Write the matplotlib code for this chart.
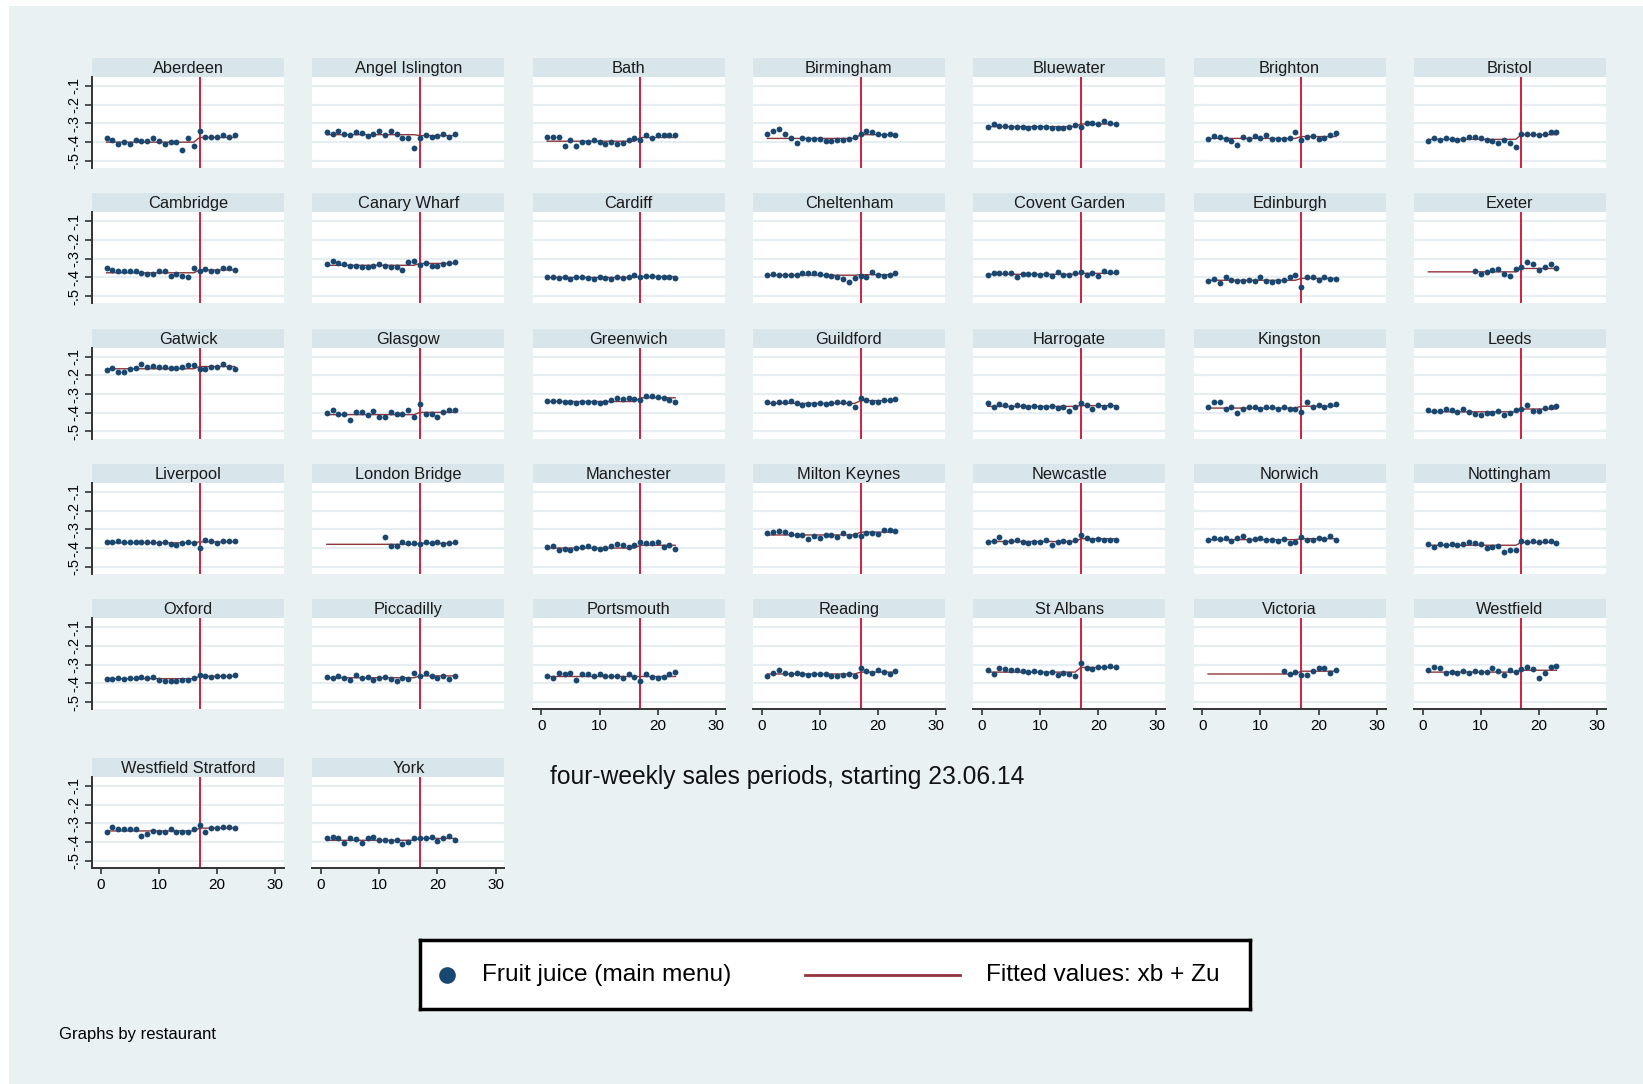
import numpy as np
import matplotlib
matplotlib.use('Agg')
import matplotlib.pyplot as plt
from matplotlib.patches import Rectangle

plt.rcParams['font.family'] = ['Liberation Sans', 'DejaVu Sans']

# four-weekly sales periods
periods = list(range(1, 24))
n = None

# fruit juice (main menu) per restaurant, one value per period
aberdeen = [-0.38, -0.386, -0.41, -0.40, -0.41, -0.386, -0.395, -0.395, -0.38, -0.395, -0.41, -0.40, -0.40, -0.44, -0.38, -0.42, -0.34, -0.37, -0.37, -0.37, -0.36, -0.37, -0.36]
angel_islington = [-0.345, -0.354, -0.338, -0.354, -0.363, -0.345, -0.35, -0.368, -0.354, -0.338, -0.36, -0.338, -0.354, -0.38, -0.38, -0.43, -0.38, -0.36, -0.373, -0.368, -0.354, -0.375, -0.354]
bath = [-0.373, -0.373, -0.373, -0.418, -0.39, -0.42, -0.40, -0.40, -0.39, -0.40, -0.41, -0.40, -0.41, -0.405, -0.39, -0.38, -0.387, -0.364, -0.378, -0.364, -0.364, -0.364, -0.364]
birmingham = [-0.355, -0.342, -0.33, -0.355, -0.378, -0.405, -0.378, -0.382, -0.382, -0.385, -0.395, -0.395, -0.39, -0.39, -0.382, -0.373, -0.355, -0.342, -0.346, -0.355, -0.36, -0.355, -0.36]
bluewater = [-0.318, -0.305, -0.313, -0.313, -0.318, -0.318, -0.318, -0.324, -0.318, -0.318, -0.318, -0.324, -0.324, -0.324, -0.318, -0.31, -0.318, -0.30, -0.30, -0.305, -0.285, -0.30, -0.305]
brighton = [-0.382, -0.367, -0.373, -0.385, -0.396, -0.413, -0.373, -0.382, -0.367, -0.378, -0.364, -0.382, -0.382, -0.382, -0.378, -0.345, -0.39, -0.373, -0.367, -0.382, -0.378, -0.364, -0.35]
bristol = [-0.396, -0.378, -0.39, -0.378, -0.385, -0.39, -0.385, -0.373, -0.373, -0.378, -0.39, -0.396, -0.404, -0.39, -0.404, -0.427, -0.355, -0.355, -0.355, -0.36, -0.355, -0.345, -0.345]
cambridge = [-0.35, -0.36, -0.366, -0.366, -0.366, -0.366, -0.375, -0.384, -0.384, -0.366, -0.366, -0.39, -0.38, -0.39, -0.395, -0.35, -0.366, -0.355, -0.366, -0.366, -0.35, -0.35, -0.36]
canary_wharf = [-0.33, -0.31, -0.323, -0.33, -0.338, -0.338, -0.345, -0.345, -0.338, -0.33, -0.338, -0.345, -0.345, -0.36, -0.318, -0.31, -0.335, -0.323, -0.338, -0.338, -0.33, -0.325, -0.318]
cardiff = [-0.40, -0.40, -0.405, -0.40, -0.41, -0.40, -0.40, -0.405, -0.41, -0.40, -0.405, -0.41, -0.40, -0.405, -0.395, -0.385, -0.40, -0.39, -0.39, -0.395, -0.40, -0.395, -0.405]
cheltenham = [-0.385, -0.38, -0.385, -0.385, -0.385, -0.385, -0.375, -0.375, -0.375, -0.38, -0.385, -0.39, -0.40, -0.41, -0.425, -0.405, -0.39, -0.395, -0.37, -0.385, -0.39, -0.385, -0.375]
covent_garden = [-0.385, -0.375, -0.375, -0.375, -0.375, -0.40, -0.38, -0.38, -0.38, -0.385, -0.38, -0.39, -0.37, -0.385, -0.385, -0.375, -0.37, -0.385, -0.375, -0.39, -0.365, -0.37, -0.37]
edinburgh = [-0.42, -0.41, -0.43, -0.40, -0.415, -0.42, -0.42, -0.415, -0.42, -0.40, -0.42, -0.425, -0.42, -0.415, -0.40, -0.385, -0.45, -0.395, -0.40, -0.415, -0.395, -0.41, -0.41]
exeter = [n, n, n, n, n, n, n, n, -0.366, -0.384, -0.37, -0.36, -0.357, -0.384, -0.39, -0.357, -0.345, -0.32, -0.33, -0.36, -0.345, -0.33, -0.35]
gatwick = [-0.174, -0.162, -0.183, -0.183, -0.168, -0.162, -0.14, -0.153, -0.148, -0.156, -0.156, -0.162, -0.16, -0.153, -0.145, -0.145, -0.165, -0.168, -0.156, -0.153, -0.14, -0.156, -0.165]
glasgow = [-0.40, -0.384, -0.405, -0.405, -0.437, -0.398, -0.398, -0.41, -0.393, -0.423, -0.423, -0.398, -0.405, -0.405, -0.384, -0.425, -0.352, -0.405, -0.405, -0.423, -0.398, -0.384, -0.384]
greenwich = [-0.335, -0.335, -0.335, -0.34, -0.345, -0.35, -0.34, -0.345, -0.34, -0.35, -0.345, -0.33, -0.32, -0.325, -0.32, -0.325, -0.33, -0.31, -0.31, -0.315, -0.32, -0.33, -0.345]
guildford = [-0.345, -0.35, -0.345, -0.345, -0.335, -0.35, -0.36, -0.355, -0.355, -0.35, -0.355, -0.35, -0.345, -0.345, -0.35, -0.37, -0.32, -0.33, -0.34, -0.34, -0.33, -0.33, -0.325]
harrogate = [-0.35, -0.37, -0.355, -0.36, -0.37, -0.36, -0.365, -0.37, -0.365, -0.37, -0.37, -0.365, -0.375, -0.37, -0.39, -0.37, -0.35, -0.36, -0.38, -0.36, -0.37, -0.36, -0.37]
kingston = [-0.37, -0.34, -0.34, -0.38, -0.37, -0.40, -0.38, -0.37, -0.37, -0.38, -0.37, -0.37, -0.38, -0.37, -0.38, -0.38, -0.395, -0.34, -0.37, -0.36, -0.37, -0.36, -0.355]
leeds = [-0.385, -0.39, -0.39, -0.38, -0.385, -0.395, -0.38, -0.395, -0.405, -0.41, -0.40, -0.40, -0.39, -0.41, -0.40, -0.385, -0.38, -0.36, -0.39, -0.39, -0.375, -0.37, -0.365]
liverpool = [-0.365, -0.365, -0.36, -0.37, -0.365, -0.37, -0.37, -0.37, -0.365, -0.375, -0.37, -0.38, -0.385, -0.375, -0.37, -0.375, -0.40, -0.355, -0.36, -0.375, -0.36, -0.36, -0.36]
london_bridge = [n, n, n, n, n, n, n, n, n, n, -0.34, -0.39, -0.39, -0.37, -0.372, -0.375, -0.38, -0.37, -0.375, -0.37, -0.378, -0.375, -0.37]
manchester = [-0.395, -0.39, -0.41, -0.405, -0.41, -0.40, -0.395, -0.39, -0.40, -0.405, -0.40, -0.39, -0.38, -0.385, -0.395, -0.385, -0.37, -0.375, -0.375, -0.37, -0.395, -0.385, -0.405]
milton_keynes = [-0.32, -0.315, -0.31, -0.315, -0.325, -0.33, -0.33, -0.35, -0.335, -0.345, -0.33, -0.33, -0.34, -0.32, -0.335, -0.33, -0.335, -0.32, -0.32, -0.325, -0.305, -0.305, -0.31]
newcastle = [-0.37, -0.36, -0.34, -0.365, -0.36, -0.355, -0.37, -0.375, -0.365, -0.37, -0.355, -0.385, -0.365, -0.36, -0.365, -0.355, -0.33, -0.345, -0.355, -0.35, -0.355, -0.355, -0.355]
norwich = [-0.355, -0.345, -0.35, -0.345, -0.36, -0.345, -0.335, -0.355, -0.35, -0.345, -0.355, -0.355, -0.36, -0.35, -0.375, -0.37, -0.34, -0.355, -0.355, -0.345, -0.35, -0.335, -0.355]
nottingham = [-0.38, -0.395, -0.38, -0.385, -0.38, -0.385, -0.38, -0.37, -0.375, -0.38, -0.40, -0.395, -0.39, -0.42, -0.41, -0.41, -0.36, -0.37, -0.36, -0.37, -0.36, -0.36, -0.375]
oxford = [-0.375, -0.375, -0.37, -0.375, -0.37, -0.37, -0.365, -0.37, -0.365, -0.38, -0.385, -0.385, -0.385, -0.38, -0.38, -0.37, -0.355, -0.36, -0.365, -0.36, -0.36, -0.36, -0.355]
piccadilly = [-0.365, -0.37, -0.36, -0.37, -0.38, -0.355, -0.37, -0.365, -0.38, -0.37, -0.365, -0.375, -0.385, -0.37, -0.375, -0.345, -0.36, -0.345, -0.36, -0.37, -0.36, -0.375, -0.36]
portsmouth = [-0.36, -0.37, -0.345, -0.35, -0.345, -0.38, -0.35, -0.35, -0.36, -0.35, -0.36, -0.36, -0.36, -0.37, -0.35, -0.365, -0.39, -0.35, -0.365, -0.37, -0.365, -0.35, -0.34]
reading = [-0.36, -0.345, -0.33, -0.345, -0.35, -0.345, -0.35, -0.355, -0.35, -0.35, -0.35, -0.36, -0.36, -0.355, -0.35, -0.36, -0.32, -0.335, -0.345, -0.33, -0.34, -0.35, -0.335]
st_albans = [-0.33, -0.35, -0.32, -0.325, -0.33, -0.33, -0.335, -0.34, -0.335, -0.34, -0.345, -0.34, -0.355, -0.345, -0.35, -0.36, -0.29, -0.32, -0.325, -0.315, -0.31, -0.305, -0.31]
victoria = [n, n, n, n, n, n, n, n, n, n, n, n, n, -0.333, -0.35, -0.34, -0.357, -0.357, -0.333, -0.318, -0.32, -0.345, -0.327]
westfield = [-0.328, -0.313, -0.32, -0.346, -0.337, -0.346, -0.333, -0.346, -0.333, -0.34, -0.34, -0.32, -0.333, -0.355, -0.328, -0.34, -0.324, -0.313, -0.324, -0.37, -0.346, -0.313, -0.306]
westfield_stratford = [-0.345, -0.318, -0.332, -0.332, -0.332, -0.332, -0.368, -0.354, -0.34, -0.345, -0.345, -0.332, -0.345, -0.345, -0.345, -0.332, -0.31, -0.345, -0.327, -0.327, -0.318, -0.318, -0.327]
york = [-0.38, -0.375, -0.38, -0.404, -0.38, -0.385, -0.404, -0.38, -0.375, -0.39, -0.39, -0.395, -0.39, -0.41, -0.40, -0.38, -0.38, -0.38, -0.375, -0.395, -0.38, -0.368, -0.39]

restaurants = ['Aberdeen', 'Angel Islington', 'Bath', 'Birmingham', 'Bluewater', 'Brighton', 'Bristol',
               'Cambridge', 'Canary Wharf', 'Cardiff', 'Cheltenham', 'Covent Garden', 'Edinburgh', 'Exeter',
               'Gatwick', 'Glasgow', 'Greenwich', 'Guildford', 'Harrogate', 'Kingston', 'Leeds',
               'Liverpool', 'London Bridge', 'Manchester', 'Milton Keynes', 'Newcastle', 'Norwich', 'Nottingham',
               'Oxford', 'Piccadilly', 'Portsmouth', 'Reading', 'St Albans', 'Victoria', 'Westfield',
               'Westfield Stratford', 'York']
series = [aberdeen, angel_islington, bath, birmingham, bluewater, brighton, bristol,
          cambridge, canary_wharf, cardiff, cheltenham, covent_garden, edinburgh, exeter,
          gatwick, glasgow, greenwich, guildford, harrogate, kingston, leeds,
          liverpool, london_bridge, manchester, milton_keynes, newcastle, norwich, nottingham,
          oxford, piccadilly, portsmouth, reading, st_albans, victoria, westfield,
          westfield_stratford, york]

# fitted values (xb + Zu): level before and from period 17
fit_pre = [-0.40, -0.36, -0.395, -0.38, -0.317, -0.38, -0.385,
           -0.375, -0.335, -0.40, -0.388, -0.383, -0.415, -0.37,
           -0.165, -0.41, -0.34, -0.35, -0.366, -0.375, -0.395,
           -0.372, -0.38, -0.40, -0.33, -0.365, -0.355, -0.385,
           -0.375, -0.37, -0.36, -0.35, -0.34, -0.35, -0.34,
           -0.34, -0.39]
fit_post = [-0.375, -0.365, -0.375, -0.36, -0.303, -0.37, -0.36,
            -0.36, -0.325, -0.395, -0.385, -0.378, -0.405, -0.352,
            -0.153, -0.398, -0.32, -0.335, -0.362, -0.365, -0.38,
            -0.367, -0.375, -0.385, -0.315, -0.35, -0.35, -0.37,
            -0.362, -0.36, -0.36, -0.34, -0.315, -0.335, -0.33,
            -0.325, -0.38]
break_period = 17

yticks = [-0.5, -0.4, -0.3, -0.2, -0.1]
ytick_labels = ['-.5', '-.4', '-.3', '-.2', '-.1']
xticks = [0, 10, 20, 30]

bg = '#e9f1f3'
strip_col = '#d8e5eb'
grid_col = '#e6eef1'
dot_col = '#1a476f'
fit_col = '#90353b'
vline_col = '#d11f3f'
axis_col = '#333333'

W, H = 1643, 1084
fig = plt.figure(figsize=(W / 100, H / 100), dpi=100, facecolor='white')
fig.patches.append(Rectangle((9 / W, 0), 1, (H - 6) / H, transform=fig.transFigure,
                             facecolor=bg, edgecolor='none', zorder=-5))


def box(x0, y0, w, h):
    return [x0 / W, 1 - (y0 + h) / H, w / W, h / H]


bottom_axis = {(4, 2), (4, 3), (4, 4), (4, 5), (4, 6), (5, 0), (5, 1)}

for i, name in enumerate(restaurants):
    row, col = divmod(i, 7)
    left = 92 + col * 220.3
    top = 77 + row * 135.3 if row < 5 else 777

    strip = fig.add_axes(box(left, top - 19, 192, 19))
    strip.set_facecolor(strip_col)
    strip.set_xticks([])
    strip.set_yticks([])
    for s in strip.spines.values():
        s.set_visible(False)
    strip.text(0.5, 0.45, name, ha='center', va='center', fontsize=11.8, color='#1a1a1a')

    ax = fig.add_axes(box(left, top, 192, 91))
    ax.set_facecolor('white')
    ax.set_xlim(-1.5, 31.5)
    ax.set_ylim(-0.538, -0.052)
    for y in yticks:
        ax.axhline(y, color=grid_col, lw=1.6, zorder=1)
    ax.axvline(break_period, color=vline_col, lw=1.4, zorder=2)

    fitted = [fit_pre[i] if p < break_period else fit_post[i] for p in periods]
    ax.plot(periods, fitted, color=fit_col, lw=1.0, zorder=3)
    vals = np.array([np.nan if v is None else v for v in series[i]])
    ax.plot(periods, vals, 'o', ms=4.2, color=dot_col, mec='none', zorder=4)

    for s in ['top', 'right']:
        ax.spines[s].set_visible(False)

    if col == 0:
        ax.spines['left'].set_color(axis_col)
        ax.spines['left'].set_linewidth(1.4)
        ax.set_yticks(yticks)
        ax.set_yticklabels(ytick_labels, rotation=90, va='center', fontsize=10.5)
        ax.tick_params(axis='y', length=5, width=1.2, color=axis_col, pad=3)
    else:
        ax.spines['left'].set_visible(False)
        ax.set_yticks([])

    if (row, col) in bottom_axis:
        ax.spines['bottom'].set_color(axis_col)
        ax.spines['bottom'].set_linewidth(1.4)
        ax.set_xticks(xticks)
        ax.set_xticklabels([str(t) for t in xticks], fontsize=11)
        ax.tick_params(axis='x', length=4, width=1.2, color=axis_col, pad=3)
    else:
        ax.spines['bottom'].set_visible(False)
        ax.set_xticks([])

fig.text(787 / W, 1 - 777 / H, 'four-weekly sales periods, starting 23.06.14',
         ha='center', va='center', fontsize=17.7, color='#111111')

# legend box
leg = fig.add_axes(box(420, 940, 830, 69))
leg.set_facecolor('white')
leg.set_xlim(420, 1250)
leg.set_ylim(1009, 940)
leg.set_xticks([])
leg.set_yticks([])
for s in leg.spines.values():
    s.set_linewidth(2.5)
    s.set_color('black')
leg.plot([447], [975], 'o', ms=12, color=dot_col, mec='none')
leg.text(482, 975, 'Fruit juice (main menu)', va='center', ha='left', fontsize=17.6)
leg.plot([805, 960], [975, 975], color=fit_col, lw=2)
leg.text(986, 975, 'Fitted values: xb + Zu', va='center', ha='left', fontsize=17.6)

fig.text(59 / W, 1 - 1035 / H, 'Graphs by restaurant', ha='left', va='center', fontsize=12)

fig.savefig('out.png', dpi=100, facecolor=fig.get_facecolor())
